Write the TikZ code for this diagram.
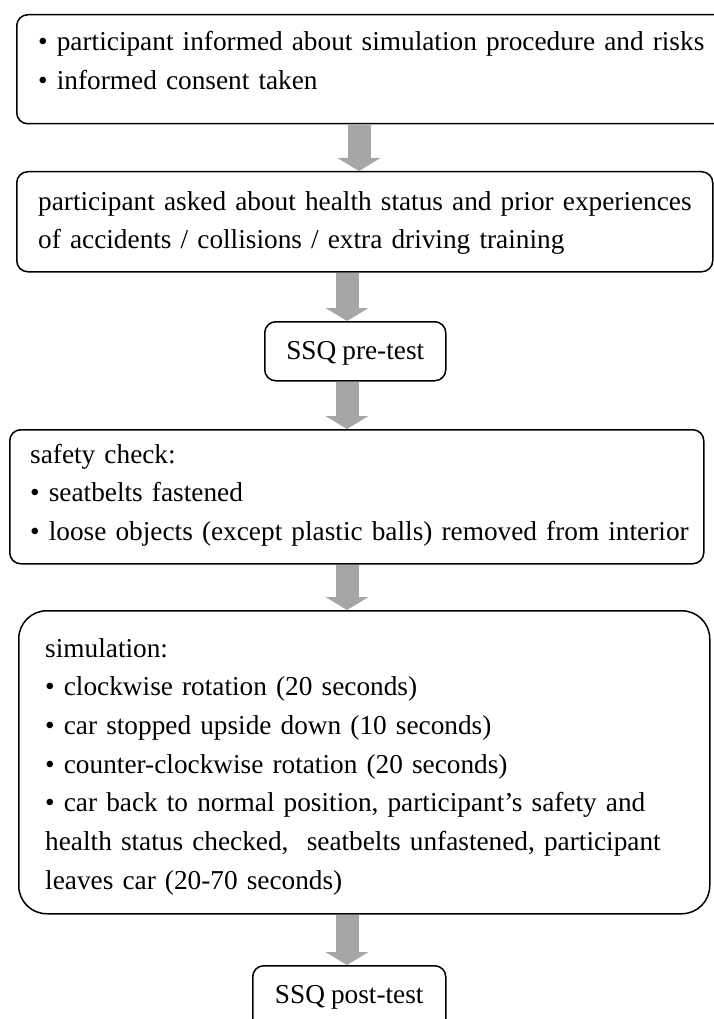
\documentclass[tikz,border=0pt]{standalone}
\usepackage{fontspec}
\setmainfont{Liberation Serif}[WordSpace=0.88]
\usetikzlibrary{arrows.meta,positioning}
\definecolor{arrowgray}{RGB}{166,166,166}

\begin{document}
\begin{tikzpicture}[x=1pt,y=-1pt,
  procbox/.style={draw=black, line width=1.5pt, rounded corners=11pt, inner sep=0pt, anchor=north west},
  boxtext/.style={font=\fontsize{27.3}{38.7}\selectfont, inner sep=0pt, anchor=base west, align=left, text width=690pt},
  midtext/.style={font=\fontsize{27.3}{38.7}\selectfont, inner sep=0pt, anchor=base},
  flowarrow/.style={draw=arrowgray, line width=23pt, -{Triangle[width=43pt,length=13pt,line width=0pt]}}]
  \useasboundingbox (0,0) rectangle (713,1019);

  \node[procbox, minimum width=712pt, minimum height=109pt] (info) at (16,14) {};
  \node[procbox, minimum width=696pt, minimum height=100pt] (health) at (16,171) {};
  \node[procbox, minimum width=181pt, minimum height=59pt] (pre) at (264,321) {};
  \node[procbox, minimum width=694pt, minimum height=134pt] (safety) at (9,429) {};
  \node[procbox, minimum width=691pt, minimum height=303pt, rounded corners=28pt] (sim) at (18,610) {};
  \node[procbox, minimum width=193pt, minimum height=80pt] (post) at (252,965) {};

  \node[boxtext] (infotext) at ([shift={(22,37)}]info.north west)
    {\textbullet\ participant informed about simulation procedure and risks\\
     \textbullet\ informed consent taken};
  \node[boxtext] (healthtext) at ([shift={(22,39)}]health.north west)
    {participant asked about health status and prior experiences\\
     of accidents / collisions / extra driving training};
  \node[midtext] (pretext) at ([shift={(0,8)}]pre.center) {SSQ pre-test};
  \node[boxtext] (safetytext) at ([shift={(21,34)}]safety.north west)
    {safety check:\\
     \textbullet\ seatbelts fastened\\
     \textbullet\ loose objects (except plastic balls) removed from interior};
  \node[boxtext] (simtext) at ([shift={(27,47)}]sim.north west)
    {simulation:\\
     \textbullet\ clockwise rotation (20 seconds)\\
     \textbullet\ car stopped upside down (10 seconds)\\
     \textbullet\ counter-clockwise rotation (20 seconds)\\
     \textbullet\ car back to normal position, participant's safety and\\
     health status checked,~ seatbelts unfastened, participant\\
     leaves car (20-70 seconds)};
  \node[midtext] (posttext) at ([shift={(0,38)}]post.north) {SSQ post-test};

  \coordinate (colA) at (359,0);
  \coordinate (colB) at (347,0);
  \draw[flowarrow] (info.south -| colA) -- (health.north -| colA);
  \draw[flowarrow] (health.south -| colB) -- (pre.north -| colB);
  \draw[flowarrow] (pre.south -| colB) -- (safety.north -| colB);
  \draw[flowarrow] (safety.south -| colB) -- (sim.north -| colB);
  \draw[flowarrow] (sim.south -| colB) -- (post.north -| colB);

\end{tikzpicture}
\end{document}
